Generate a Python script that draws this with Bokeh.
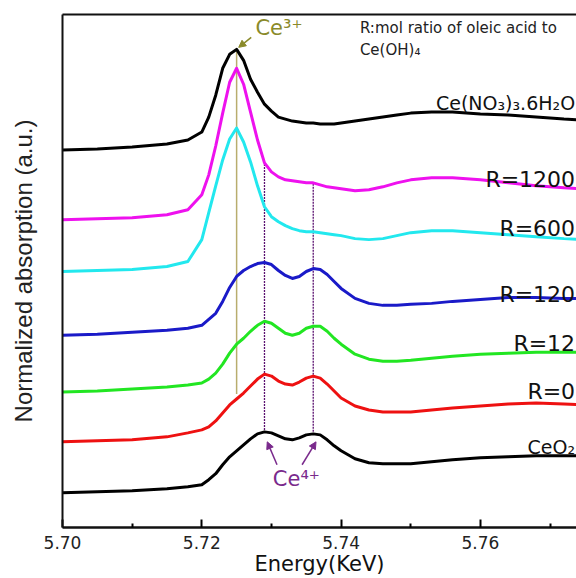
from math import pi
from bokeh.plotting import figure
from bokeh.models import Range1d, FixedTicker, LinearAxis, Label, Arrow, NormalHead
from bokeh.embed import file_html
from bokeh.resources import INLINE

# ---------------- data ----------------
energy = [5.700, 5.705, 5.710, 5.715, 5.718, 5.720, 5.721, 5.722, 5.723, 5.724,
          5.725, 5.726, 5.727, 5.728, 5.729, 5.730, 5.731, 5.732, 5.733, 5.734,
          5.735, 5.736, 5.737, 5.738, 5.739, 5.740, 5.742, 5.744, 5.746, 5.748,
          5.750, 5.753, 5.756, 5.760, 5.764, 5.768, 5.772, 5.775]

nitrate = [3.79, 3.80, 3.82, 3.85, 3.89, 3.97, 4.12, 4.34, 4.61, 4.75,
           4.80, 4.69, 4.50, 4.37, 4.25, 4.18, 4.12, 4.10, 4.08, 4.07,
           4.06, 4.06, 4.05, 4.05, 4.05, 4.06, 4.08, 4.10, 4.12, 4.14,
           4.16, 4.17, 4.17, 4.15, 4.14, 4.12, 4.10, 4.09]

r1200 = [3.09, 3.10, 3.11, 3.14, 3.19, 3.34, 3.54, 3.83, 4.16, 4.47,
         4.61, 4.45, 4.17, 3.89, 3.66, 3.57, 3.52, 3.49, 3.48, 3.47,
         3.46, 3.46, 3.44, 3.42, 3.41, 3.40, 3.38, 3.39, 3.42, 3.46,
         3.49, 3.51, 3.51, 3.49, 3.46, 3.43, 3.41, 3.40]

r600 = [2.57, 2.58, 2.59, 2.62, 2.67, 2.89, 3.16, 3.43, 3.69, 3.90,
        4.01, 3.87, 3.67, 3.43, 3.22, 3.12, 3.07, 3.03, 3.00, 2.98,
        2.97, 2.97, 2.96, 2.95, 2.94, 2.93, 2.90, 2.89, 2.90, 2.93,
        2.96, 2.98, 2.98, 2.96, 2.94, 2.92, 2.90, 2.89]

r120 = [1.93, 1.94, 1.96, 1.98, 2.00, 2.03, 2.09, 2.15, 2.27, 2.41,
        2.52, 2.58, 2.62, 2.65, 2.66, 2.64, 2.58, 2.53, 2.50, 2.52,
        2.57, 2.60, 2.59, 2.54, 2.47, 2.40, 2.30, 2.25, 2.23, 2.23,
        2.24, 2.25, 2.27, 2.29, 2.31, 2.31, 2.30, 2.30]

r12 = [1.36, 1.37, 1.39, 1.41, 1.43, 1.45, 1.49, 1.55, 1.64, 1.75,
       1.84, 1.90, 1.97, 2.03, 2.07, 2.05, 2.00, 1.95, 1.93, 1.95,
       2.00, 2.02, 2.02, 1.97, 1.90, 1.84, 1.74, 1.69, 1.67, 1.67,
       1.68, 1.70, 1.72, 1.74, 1.75, 1.76, 1.76, 1.76]

r0 = [0.86, 0.87, 0.88, 0.91, 0.95, 0.98, 1.01, 1.07, 1.15, 1.23,
      1.29, 1.35, 1.42, 1.49, 1.54, 1.52, 1.47, 1.44, 1.43, 1.46,
      1.50, 1.52, 1.50, 1.44, 1.37, 1.30, 1.22, 1.18, 1.16, 1.16,
      1.16, 1.18, 1.20, 1.22, 1.24, 1.25, 1.24, 1.23]

ceo2 = [0.35, 0.36, 0.37, 0.39, 0.41, 0.43, 0.48, 0.54, 0.63, 0.71,
        0.77, 0.83, 0.89, 0.94, 0.96, 0.95, 0.92, 0.89, 0.88, 0.90,
        0.93, 0.94, 0.93, 0.88, 0.82, 0.77, 0.69, 0.65, 0.64, 0.64,
        0.64, 0.66, 0.68, 0.70, 0.71, 0.72, 0.72, 0.72]

series = [nitrate, r1200, r600, r120, r12, r0, ceo2]
series_names = ["Ce(NO\u2083)\u2083.6H\u2082O", "R=1200", "R=600", "R=120", "R=12", "R=0", "CeO\u2082"]
series_colors = ["#000000", "#ee11ee", "#22e8ee", "#1a1ac8", "#22e622", "#ee1111", "#000000"]
label_y = [4.26, 3.49, 3.00, 2.34, 1.85, 1.37, 0.81]
label_size = ["19px", "22px", "22px", "22px", "22px", "22px", "19px"]

tick_values = [5.70, 5.72, 5.74, 5.76]
tick_labels = ["5.70", "5.72", "5.74", "5.76"]
minor_tick_values = [5.71, 5.73, 5.75, 5.77]

ce3_peak = 5.725
ce4_peaks = [5.729, 5.736]

X_END = 5.7738

# ---------------- figure ----------------
p = figure(width=576, height=578, output_backend="svg", toolbar_location=None,
           x_range=Range1d(5.70, X_END), y_range=Range1d(0, 5.15),
           min_border_left=62, min_border_right=0, min_border_top=14,
           min_border_bottom=49, background_fill_color="white",
           border_fill_color="white", outline_line_color=None)
p.grid.visible = False

# bottom axis
xa = p.xaxis[0]
xa.ticker = FixedTicker(ticks=tick_values, minor_ticks=minor_tick_values)
xa.major_label_overrides = {v: s for v, s in zip(tick_values, tick_labels)}
xa.axis_line_width = 2.5
xa.axis_line_color = "#111111"
xa.major_tick_in = 8
xa.major_tick_out = 0
xa.minor_tick_in = 4
xa.minor_tick_out = 0
xa.major_tick_line_width = 2
xa.minor_tick_line_width = 2
xa.major_label_text_font = "DejaVu Sans"
xa.major_label_text_font_size = "17px"
xa.major_label_text_color = "#222222"
xa.major_label_standoff = 8
xa.axis_label = "Energy(KeV)"
xa.axis_label_text_font = "DejaVu Sans"
xa.axis_label_text_font_size = "21px"
xa.axis_label_text_font_style = "normal"
xa.axis_label_text_color = "#111111"
xa.axis_label_standoff = 0

# left axis: spine only
ya = p.yaxis[0]
ya.ticker = FixedTicker(ticks=[])
ya.axis_line_width = 2
ya.axis_line_color = "#111111"
ya.major_tick_line_color = None
ya.minor_tick_line_color = None

# second left axis only carries the label (centred like the reference)
ylab = LinearAxis(ticker=FixedTicker(ticks=[]), bounds=(0.0, 4.96),
                  axis_line_color=None, major_tick_line_color=None,
                  minor_tick_line_color=None,
                  axis_label="Normalized absorption (a.u.)",
                  axis_label_text_font="Liberation Sans",
                  axis_label_text_font_size="24px",
                  axis_label_text_font_style="normal",
                  axis_label_text_color="#222222",
                  axis_label_standoff=26)
p.add_layout(ylab, "left")

# top spine
top = LinearAxis(ticker=FixedTicker(ticks=[]), axis_line_width=2, axis_line_color="#111111",
                 major_tick_line_color=None, minor_tick_line_color=None)
p.add_layout(top, "above")

# marker lines
i3 = energy.index(ce3_peak)
p.segment(x0=[ce3_peak], y0=[r0[i3] + 0.05], x1=[ce3_peak], y1=[nitrate[i3] - 0.02],
          line_color="#b8ad6e", line_width=1.5)
for e in ce4_peaks:
    i = energy.index(e)
    p.segment(x0=[e], y0=[ceo2[i] + 0.02], x1=[e], y1=[r1200[i]],
              line_color="#5a1070", line_width=1.3, line_dash="2 1")

# curves
for ys, c in zip(series, series_colors):
    p.line(energy, ys, line_color=c, line_width=3, line_join="round")

# curve labels
for name, yl, fs in zip(series_names, label_y, label_size):
    p.add_layout(Label(x=X_END - 0.0002, y=yl, text=name, text_align="right",
                       text_baseline="alphabetic", text_font="DejaVu Sans",
                       text_font_size=fs, text_color="#111111"))

# note
p.add_layout(Label(x=5.7427, y=4.92, text="R:mol ratio of oleic acid to",
                   text_font="DejaVu Sans", text_font_size="15px", text_color="#222222"))
p.add_layout(Label(x=5.7427, y=4.70, text="Ce(OH)\u2084",
                   text_font="DejaVu Sans", text_font_size="15px", text_color="#222222"))

# Ce3+ annotation
olive = "#8a8a2a"
p.add_layout(Label(x=5.7277, y=4.89, text="Ce\u00b3\u207a", text_font="DejaVu Sans",
                   text_font_size="21px", text_color=olive))
p.add_layout(Arrow(x_start=5.7271, y_start=4.92, x_end=5.7253, y_end=4.82,
                   line_color=olive, line_width=1.5,
                   end=NormalHead(size=7, fill_color=olive, line_color=olive)))

# Ce4+ annotation
purple = "#7a2a8c"
p.add_layout(Label(x=5.7302, y=0.37, text="Ce\u2074\u207a", text_font="DejaVu Sans",
                   text_font_size="21px", text_color=purple))
p.add_layout(Arrow(x_start=5.7308, y_start=0.63, x_end=5.7294, y_end=0.86,
                   line_color=purple, line_width=1.5,
                   end=NormalHead(size=7, fill_color=purple, line_color=purple)))
p.add_layout(Arrow(x_start=5.7344, y_start=0.63, x_end=5.7364, y_end=0.86,
                   line_color=purple, line_width=1.5,
                   end=NormalHead(size=7, fill_color=purple, line_color=purple)))

open("out.html", "w").write(file_html(p, INLINE))
